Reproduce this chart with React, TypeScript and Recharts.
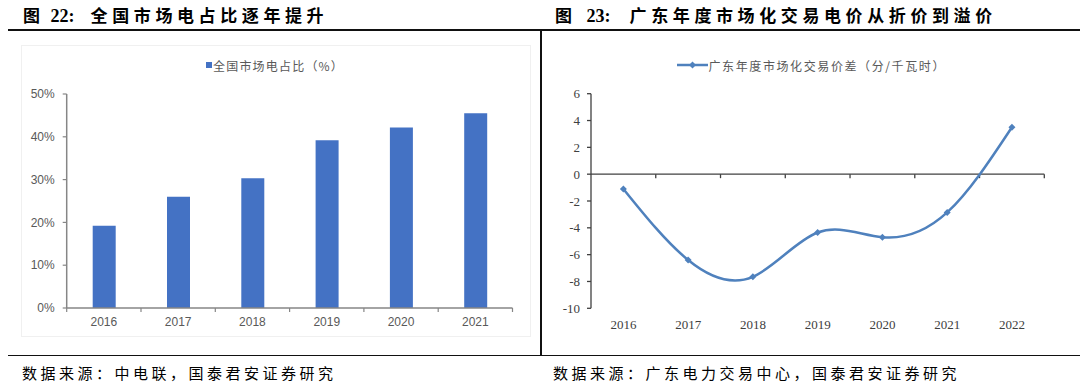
import React from "react";
import {
  BarChart,
  Bar,
  LineChart,
  Line,
  XAxis,
  YAxis,
  Legend,
  ReferenceLine,
} from "recharts";

// left: national market electricity share (%)
const barYears = ["2016", "2017", "2018", "2019", "2020", "2021"];
const marketShare = [19.2, 26.0, 30.3, 39.2, 42.2, 45.5];
const shareTicks = [0, 10, 20, 30, 40, 50];

// right: Guangdong annual market price spread (fen/kWh)
const lineYears = ["2016", "2017", "2018", "2019", "2020", "2021", "2022"];
const priceSpread = [-1.1, -6.4, -7.65, -4.35, -4.7, -2.85, 3.5];
const spreadTicks = [-10, -8, -6, -4, -2, 0, 2, 4, 6];

const barData = barYears.map((y, i) => ({ year: y, share: marketShare[i] }));
const lineData = lineYears.map((y, i) => ({ year: y, spread: priceSpread[i] }));

const CJK = "'Noto Sans CJK SC', sans-serif";
const SERIF = "'Liberation Serif', 'Noto Sans CJK SC', serif";
const BAR_BLUE = "#4472c4";
const LINE_BLUE = "#4f81bd";

const BAR_PLOT_W = 512.5 - 66.7;

const BarXTick = (props: any) => {
  const { x, y, payload, index } = props;
  const band = BAR_PLOT_W / barYears.length;
  return (
    <g>
      <line x1={x - band / 2} x2={x - band / 2} y1={y} y2={y + 4} stroke="#868686" strokeWidth={1.2} />
      {index === barYears.length - 1 && (
        <line x1={x + band / 2} x2={x + band / 2} y1={y} y2={y + 4} stroke="#868686" strokeWidth={1.2} />
      )}
      <text
        x={x}
        y={y + 14}
        textAnchor="middle"
        dominantBaseline="central"
        fill="#595959"
        fontSize={12}
        fontFamily="'Liberation Sans', sans-serif"
      >
        {payload.value}
      </text>
    </g>
  );
};

const LineXTick = (props: any) => {
  const { x, y, payload } = props;
  return (
    <text
      x={x}
      y={y + 16}
      textAnchor="middle"
      dominantBaseline="central"
      fill="#404040"
      fontSize={13}
      fontFamily="'Liberation Serif', serif"
    >
      {payload.value}
    </text>
  );
};

const ZeroLine = (p: any) => {
  const { x1, x2, y1 } = p;
  const band = (x2 - x1) / lineYears.length;
  return (
    <g>
      <line x1={x1} x2={x2} y1={y1} y2={y1} stroke="#404040" strokeWidth={1.3} />
      {lineYears.map((_, i) => (
        <line
          key={i}
          x1={x1 + band * (i + 1)}
          x2={x1 + band * (i + 1)}
          y1={y1}
          y2={y1 + 4}
          stroke="#404040"
          strokeWidth={1.3}
        />
      ))}
    </g>
  );
};

const Diamond = (props: any) => {
  const { cx, cy, index } = props;
  if (cx == null || cy == null) return <g key={index} />;
  const r = 3.5;
  return (
    <path
      key={index}
      d={`M${cx},${cy - r}L${cx + r},${cy}L${cx},${cy + r}L${cx - r},${cy}Z`}
      fill={LINE_BLUE}
    />
  );
};

const BarLegend = () => (
  <div style={{ display: "flex", alignItems: "center", height: 16 }}>
    <span style={{ width: 6, height: 6, background: BAR_BLUE, marginRight: 1 }} />
    <span style={{ fontFamily: CJK, fontSize: 12, color: "#595959", letterSpacing: 1.2, whiteSpace: "nowrap" }}>
      全国市场电占比（%）
    </span>
  </div>
);

const LineLegend = () => (
  <div style={{ display: "flex", alignItems: "center", height: 16 }}>
    <svg width={31} height={10} style={{ marginRight: 1 }}>
      <line x1={0} x2={31} y1={5} y2={5} stroke={LINE_BLUE} strokeWidth={2.5} />
      <path d="M15.5,1.5L19,5L15.5,8.5L12,5Z" fill={LINE_BLUE} />
    </svg>
    <span style={{ fontFamily: CJK, fontSize: 12, color: "#595959", letterSpacing: 1.6, whiteSpace: "nowrap" }}>
      广东年度市场化交易价差（分/千瓦时）
    </span>
  </div>
);

const titleStyle: React.CSSProperties = {
  position: "absolute",
  top: 4,
  fontFamily: SERIF,
  fontWeight: 700,
  fontSize: 17,
  letterSpacing: 4.6,
  color: "#000",
  whiteSpace: "nowrap",
  lineHeight: "24px",
};

const numStyle: React.CSSProperties = { letterSpacing: 0, fontSize: 18, display: "inline-block" };

const sourceStyle: React.CSSProperties = {
  position: "absolute",
  top: 362,
  fontFamily: CJK,
  fontSize: 15,
  letterSpacing: 3.5,
  color: "#000",
  whiteSpace: "nowrap",
  lineHeight: "22px",
};

export default function App() {
  return (
    <div
      style={{
        position: "absolute",
        left: 0,
        top: 0,
        width: 1080,
        height: 390,
        background: "#fff",
        overflow: "hidden",
      }}
    >
      <div style={{ ...titleStyle, left: 23 }}>
        图<span style={{ ...numStyle, marginLeft: 6, marginRight: 16 }}>22:</span>全国市场电占比逐年提升
      </div>
      <div style={{ ...titleStyle, left: 555 }}>
        图<span style={{ ...numStyle, marginLeft: 10, marginRight: 19 }}>23:</span>广东年度市场化交易电价从折价到溢价
      </div>

      {/* frame lines */}
      <div style={{ position: "absolute", left: 8, top: 28.5, width: 1072, height: 2, background: "#111" }} />
      <div style={{ position: "absolute", left: 540, top: 30, width: 1.5, height: 325, background: "#111" }} />
      <div style={{ position: "absolute", left: 8, top: 354.5, width: 1072, height: 1.5, background: "#111" }} />
      <div
        style={{
          position: "absolute",
          left: 21,
          top: 45,
          width: 510,
          height: 292,
          border: "1px solid #f0f0f0",
          boxSizing: "border-box",
        }}
      />

      <div style={{ position: "absolute", left: 0, top: 0 }}>
        <BarChart
          width={540}
          height={340}
          data={barData}
          margin={{ top: 94, right: 27.5, bottom: 2, left: 0 }}
          barSize={23}
        >
          <Legend
            verticalAlign="middle"
            wrapperStyle={{ top: 57, left: 206, width: "auto" }}
            content={() => <BarLegend />}
          />
          <XAxis
            dataKey="year"
            interval={0}
            tickSize={0}
            tickMargin={0}
            tickLine={false}
            axisLine={{ stroke: "#868686", strokeWidth: 1.5 }}
            tick={<BarXTick />}
            height={30}
          />
          <YAxis
            width={66.7}
            domain={[0, 50]}
            ticks={shareTicks}
            tickFormatter={(v: number) => `${v}%`}
            tickSize={4}
            tickMargin={8}
            axisLine={{ stroke: "#868686", strokeWidth: 1.5 }}
            tickLine={{ stroke: "#868686", strokeWidth: 1.2 }}
            tick={{ fill: "#595959", fontSize: 12, fontFamily: "'Liberation Sans', sans-serif" }}
          />
          <Bar dataKey="share" fill={BAR_BLUE} isAnimationActive={false} />
        </BarChart>
      </div>

      <div style={{ position: "absolute", left: 540, top: 0 }}>
        <LineChart
          width={540}
          height={340}
          data={lineData}
          margin={{ top: 93.7, right: 35.7, bottom: 1.7, left: 0 }}
        >
          <Legend
            verticalAlign="middle"
            wrapperStyle={{ top: 57, left: 136.5, width: "auto" }}
            content={() => <LineLegend />}
          />
          <XAxis
            dataKey="year"
            scale="band"
            interval={0}
            tickSize={0}
            tickMargin={0}
            tickLine={false}
            axisLine={false}
            tick={<LineXTick />}
            height={30}
          />
          <YAxis
            width={51}
            domain={[-10, 6]}
            ticks={spreadTicks}
            tickSize={4}
            tickMargin={7}
            axisLine={{ stroke: "#404040", strokeWidth: 1.3 }}
            tickLine={{ stroke: "#404040", strokeWidth: 1.3 }}
            tick={{ fill: "#404040", fontSize: 13, fontFamily: "'Liberation Serif', serif" }}
          />
          <ReferenceLine y={0} shape={ZeroLine} />
          <Line
            type="natural"
            dataKey="spread"
            stroke={LINE_BLUE}
            strokeWidth={2.5}
            dot={Diamond}
            activeDot={false}
            isAnimationActive={false}
          />
        </LineChart>
      </div>

      <div style={{ ...sourceStyle, left: 22 }}>数据来源：中电联，国泰君安证券研究</div>
      <div style={{ ...sourceStyle, left: 553 }}>数据来源：广东电力交易中心，国泰君安证券研究</div>
    </div>
  );
}
